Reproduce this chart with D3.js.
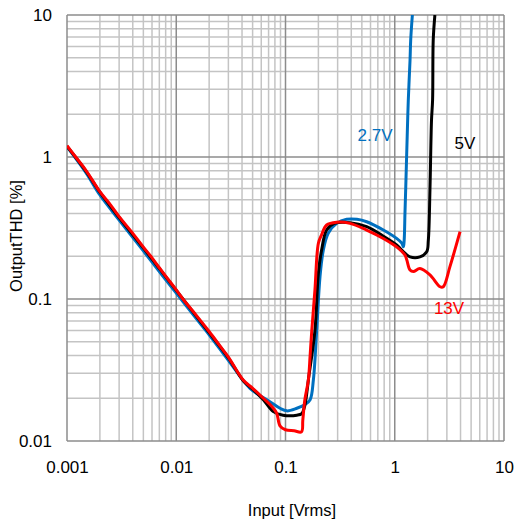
<!DOCTYPE html>
<html>
<head>
<meta charset="utf-8">
<script src="https://cdn.jsdelivr.net/npm/d3@7"></script>
<style>
  html, body { margin: 0; padding: 0; background: #fff; }
  svg { display: block; font-family: "Liberation Sans", Arial, sans-serif; }
</style>
</head>
<body>
<svg id="chart" width="515" height="522"></svg>
<script>
// ---- data ----
const xTickValues = [0.001, 0.01, 0.1, 1, 10];
const xTickLabels = ["0.001", "0.01", "0.1", "1", "10"];
const yTickValues = [0.01, 0.1, 1, 10];
const yTickLabels = ["0.01", "0.1", "1", "10"];

const seriesNames = ["2.7V", "5V", "13V"];

const x27 = [0.001, 0.0015, 0.002, 0.003, 0.005, 0.007, 0.01, 0.015, 0.02, 0.03, 0.0473, 0.072, 0.089, 0.103, 0.127, 0.15, 0.168, 0.18, 0.193, 0.207, 0.222, 0.246, 0.294, 0.363, 0.45, 0.553, 0.786, 1.04, 1.16, 1.2, 1.22, 1.24, 1.26, 1.3, 1.33, 1.38, 1.4, 1.45];
const y27 = [1.18, 0.77, 0.54, 0.36, 0.218, 0.156, 0.11, 0.074, 0.056, 0.037, 0.0235, 0.0189, 0.017, 0.0163, 0.017, 0.018, 0.0195, 0.027, 0.06, 0.144, 0.221, 0.29, 0.341, 0.364, 0.364, 0.35, 0.306, 0.267, 0.247, 0.233, 0.26, 0.4, 0.6, 1.4, 2.5, 4.8, 6.7, 10];

const x5 = [0.001, 0.0015, 0.002, 0.003, 0.005, 0.007, 0.01, 0.015, 0.02, 0.03, 0.041, 0.05, 0.0627, 0.0773, 0.095, 0.127, 0.141, 0.15, 0.158, 0.162, 0.186, 0.2, 0.214, 0.238, 0.28, 0.389, 0.553, 0.786, 1.04, 1.24, 1.38, 1.7, 1.96, 2.03, 2.1, 2.17, 2.22, 2.25, 2.33];
const y5 = [1.19, 0.79, 0.565, 0.375, 0.229, 0.164, 0.115, 0.077, 0.058, 0.0385, 0.0266, 0.0232, 0.0195, 0.0161, 0.0152, 0.0152, 0.0156, 0.0177, 0.0229, 0.027, 0.06, 0.152, 0.221, 0.306, 0.341, 0.345, 0.323, 0.277, 0.24, 0.21, 0.198, 0.198, 0.215, 0.26, 0.586, 1.82, 2.52, 6.67, 10];

const x13 = [0.001, 0.0012, 0.0015, 0.002, 0.0025, 0.003, 0.004, 0.005, 0.006, 0.007, 0.008, 0.01, 0.012, 0.015, 0.02, 0.025, 0.03, 0.041, 0.05, 0.0627, 0.075, 0.083, 0.089, 0.1, 0.12, 0.14, 0.144, 0.15, 0.162, 0.168, 0.174, 0.186, 0.2, 0.214, 0.238, 0.294, 0.389, 0.553, 0.786, 1.04, 1.24, 1.29, 1.38, 1.48, 1.7, 2.1, 2.6, 2.78, 3.2, 3.96];
const y13 = [1.2, 1.0, 0.8, 0.57, 0.46, 0.38, 0.29, 0.232, 0.195, 0.166, 0.145, 0.116, 0.096, 0.078, 0.059, 0.047, 0.039, 0.0269, 0.0235, 0.02, 0.0175, 0.0157, 0.0128, 0.012, 0.0118, 0.0116, 0.014, 0.0193, 0.027, 0.04, 0.06, 0.116, 0.247, 0.283, 0.332, 0.347, 0.341, 0.306, 0.267, 0.233, 0.204, 0.188, 0.16, 0.156, 0.164, 0.148, 0.122, 0.122, 0.169, 0.298];

const seriesColors = ["#0070C0", "#000000", "#FF0000"];

// ---- layout ----
const svg = d3.select("#chart");
const pLeft = 67, pRight = 504, pTop = 15, pBottom = 441;

const x = d3.scaleLog().domain([0.001, 10]).range([pLeft, pRight]);
const y = d3.scaleLog().domain([0.01, 10]).range([pBottom, pTop]);

// grid
const minorX = [], minorY = [];
for (let d = -3; d < 1; d++) for (let k = 2; k <= 9; k++) minorX.push(k * Math.pow(10, d));
for (let d = -2; d < 1; d++) for (let k = 2; k <= 9; k++) minorY.push(k * Math.pow(10, d));

const grid = svg.append("g");
grid.selectAll(".mx").data(minorX).join("line")
  .attr("x1", d => x(d)).attr("x2", d => x(d)).attr("y1", pTop).attr("y2", pBottom)
  .attr("stroke", "#c4c4c4").attr("stroke-width", 1.5);
grid.selectAll(".my").data(minorY).join("line")
  .attr("y1", d => y(d)).attr("y2", d => y(d)).attr("x1", pLeft).attr("x2", pRight)
  .attr("stroke", "#c4c4c4").attr("stroke-width", 1.5);
grid.selectAll(".Mx").data(xTickValues).join("line")
  .attr("x1", d => x(d)).attr("x2", d => x(d)).attr("y1", pTop).attr("y2", pBottom)
  .attr("stroke", "#8c8c8c").attr("stroke-width", 1.5);
grid.selectAll(".My").data(yTickValues).join("line")
  .attr("y1", d => y(d)).attr("y2", d => y(d)).attr("x1", pLeft).attr("x2", pRight)
  .attr("stroke", "#8c8c8c").attr("stroke-width", 1.5);

// axes
const xAxis = d3.axisBottom(x).tickValues(xTickValues)
  .tickFormat((d, i) => xTickLabels[i]).tickSize(0).tickPadding(19.5);
const gx = svg.append("g").attr("transform", `translate(0,${pBottom})`).call(xAxis);
gx.select(".domain").remove();
gx.selectAll("text").attr("font-size", 17).attr("fill", "#000")
  .attr("font-family", "'Liberation Sans', Arial, sans-serif");

const yAxis = d3.axisLeft(y).tickValues(yTickValues)
  .tickFormat((d, i) => yTickLabels[i]).tickSize(0).tickPadding(15);
const gy = svg.append("g").attr("transform", `translate(${pLeft},0)`).call(yAxis);
gy.select(".domain").remove();
gy.selectAll("text").attr("font-size", 17).attr("fill", "#000")
  .attr("font-family", "'Liberation Sans', Arial, sans-serif");

// axis titles
svg.append("text").attr("x", 292).attr("y", 516).attr("text-anchor", "middle")
  .attr("font-size", 16.5).text("Input [Vrms]");
svg.append("text").attr("transform", "translate(22,236) rotate(-90)")
  .attr("text-anchor", "middle").attr("font-size", 16.5).text("OutputTHD [%]");

// lines
const seriesX = [x27, x5, x13];
const seriesY = [y27, y5, y13];
svg.append("clipPath").attr("id", "clip").append("rect")
  .attr("x", pLeft).attr("y", pTop).attr("width", pRight - pLeft).attr("height", pBottom - pTop);
seriesNames.forEach((name, i) => {
  const pts = seriesX[i].map((v, j) => [v, seriesY[i][j]]);
  svg.append("path").datum(pts)
    .attr("d", d3.line().x(d => x(d[0])).y(d => y(d[1])).curve(d3.curveCatmullRom.alpha(0.5)))
    .attr("fill", "none").attr("stroke", seriesColors[i]).attr("stroke-width", 3)
    .attr("stroke-linejoin", "round").attr("clip-path", "url(#clip)");
});

// series labels
const labelPos = [[375, 141], [465, 149], [449, 314]];
seriesNames.forEach((name, i) => {
  svg.append("text").attr("x", labelPos[i][0]).attr("y", labelPos[i][1])
    .attr("text-anchor", "middle").attr("font-size", 17)
    .attr("fill", seriesColors[i]).text(name);
});
</script>
</body>
</html>
